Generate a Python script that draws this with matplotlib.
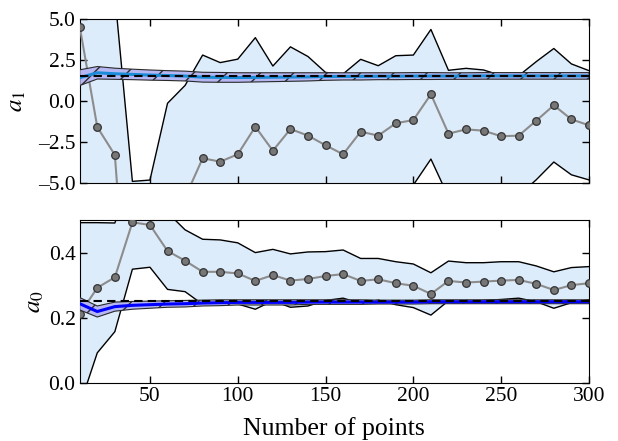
import numpy as np
import matplotlib
matplotlib.use("Agg")
import matplotlib.pyplot as plt

plt.rcParams["font.family"] = ["Liberation Serif", "DejaVu Serif"]
plt.rcParams["mathtext.fontset"] = "stix"
plt.rcParams["xtick.direction"] = "in"
plt.rcParams["ytick.direction"] = "in"
plt.rcParams["xtick.top"] = True
plt.rcParams["ytick.right"] = True
plt.rcParams["hatch.linewidth"] = 1.0

n_points = [10, 20, 30, 40, 50, 60, 70, 80, 90, 100, 110, 120, 130, 140, 150,
            160, 170, 180, 190, 200, 210, 220, 230, 240, 250, 260, 270, 280, 290, 300]

# slope a1: point estimate and its spread
a1_ml = [4.53, -1.59, -3.29, -17.5, -14.0, -10.0, -5.89, -3.49, -3.70, -3.25,
         -1.57, -3.03, -1.71, -2.11, -2.70, -3.25, -1.87, -2.11, -1.36, -1.16,
         0.41, -1.99, -1.73, -1.81, -2.15, -2.11, -1.20, -0.26, -1.12, -1.48]
a1_ml_err = [30.0, 20.0, 9.75, 12.6, 9.18, 9.86, 6.84, 6.29, 6.04, 5.80,
             5.43, 5.16, 5.01, 4.82, 4.44, 4.90, 4.41, 4.26, 4.12, 3.96,
             3.95, 3.86, 3.72, 3.70, 3.70, 3.65, 3.60, 3.46, 3.38, 3.33]
a1_bayes = [1.42, 1.72, 1.66, 1.62, 1.58, 1.55, 1.52, 1.45, 1.44, 1.43,
            1.44, 1.45, 1.46, 1.47, 1.49, 1.50, 1.50, 1.51, 1.51, 1.52,
            1.52, 1.52, 1.52, 1.53, 1.53, 1.53, 1.53, 1.53, 1.53, 1.53]
a1_bayes_err = [0.48, 0.38, 0.34, 0.32, 0.31, 0.30, 0.30, 0.30, 0.30, 0.29,
                0.28, 0.27, 0.26, 0.25, 0.23, 0.22, 0.22, 0.21, 0.21, 0.21,
                0.21, 0.20, 0.20, 0.20, 0.20, 0.20, 0.20, 0.20, 0.20, 0.20]
a1_true = 1.5

# intercept a0
a0_ml = [0.211, 0.292, 0.324, 0.493, 0.485, 0.405, 0.375, 0.341, 0.341, 0.336,
         0.313, 0.331, 0.314, 0.319, 0.328, 0.334, 0.313, 0.318, 0.306, 0.298,
         0.273, 0.313, 0.308, 0.311, 0.314, 0.316, 0.304, 0.285, 0.300, 0.306]
a0_ml_err = [0.281, 0.200, 0.167, 0.144, 0.130, 0.118, 0.095, 0.100, 0.098, 0.094,
             0.087, 0.079, 0.082, 0.083, 0.075, 0.074, 0.069, 0.064, 0.066, 0.067,
             0.065, 0.061, 0.061, 0.058, 0.058, 0.056, 0.055, 0.056, 0.054, 0.051]
a0_bayes = [0.243, 0.219, 0.234, 0.238, 0.240, 0.242, 0.243, 0.245, 0.246, 0.247,
            0.247, 0.247, 0.247, 0.248, 0.248, 0.248, 0.248, 0.248, 0.248, 0.248,
            0.249, 0.249, 0.249, 0.249, 0.249, 0.249, 0.249, 0.249, 0.249, 0.249]
a0_bayes_err = [0.019, 0.017, 0.014, 0.012, 0.011, 0.010, 0.010, 0.009, 0.009, 0.008,
                0.008, 0.008, 0.008, 0.007, 0.007, 0.007, 0.007, 0.006, 0.006, 0.006,
                0.006, 0.006, 0.006, 0.006, 0.006, 0.006, 0.006, 0.006, 0.006, 0.006]
a0_true = 0.25


def draw_panel(ax, ml, ml_err, bayes, bayes_err, true_val, line_color):
    x = np.array(n_points)
    ml = np.array(ml)
    ml_err = np.array(ml_err)
    bayes = np.array(bayes)
    bayes_err = np.array(bayes_err)

    ax.fill_between(x, ml - ml_err, ml + ml_err, facecolor="#ddecfb",
                    edgecolor="none", zorder=1)
    ax.plot(x, ml + ml_err, color="k", lw=1, zorder=2)
    ax.plot(x, ml - ml_err, color="k", lw=1, zorder=2)
    ax.plot(x, ml, color="#8c8c8c", lw=1.5, marker="o", ms=5.5,
            mfc="#777777", mec="#333333", mew=0.9, zorder=3)
    ax.fill_between(x, bayes - bayes_err, bayes + bayes_err, facecolor="#b6b6f2",
                    edgecolor="#2a2a2a", hatch="/", lw=0.8, zorder=4)
    ax.plot(x, bayes, color=line_color, lw=2.2, zorder=5)
    ax.plot(x, [true_val] * len(x), color="k", ls=(0, (4, 2.5)), lw=1.5, zorder=6)
    ax.set_xlim(10, 300)
    ax.set_xticks([50, 100, 150, 200, 250, 300])
    ax.tick_params(labelsize=15.5, length=5, width=1, pad=3)


fig = plt.figure(figsize=(6.18, 4.41), dpi=100)
ax1 = fig.add_axes([0.129, 0.585, 0.824, 0.372])
ax2 = fig.add_axes([0.129, 0.132, 0.824, 0.369])

draw_panel(ax1, a1_ml, a1_ml_err, a1_bayes, a1_bayes_err, a1_true, "#1a8cd8")
ax1.set_ylim(-5, 5)
ax1.set_yticks([-5.0, -2.5, 0.0, 2.5, 5.0])
ax1.set_yticklabels(["\u20135.0", "\u20132.5", "0.0", "2.5", "5.0"])
ax1.set_xticklabels([])
ax1.set_ylabel("$a_1$", fontsize=18, labelpad=7)

draw_panel(ax2, a0_ml, a0_ml_err, a0_bayes, a0_bayes_err, a0_true, "#0000ff")
ax2.set_ylim(0, 0.5)
ax2.set_yticks([0.0, 0.2, 0.4])
ax2.set_yticklabels(["0.0", "0.2", "0.4"])
ax2.set_ylabel("$a_0$", fontsize=18, labelpad=2)
ax2.set_xlabel("Number of points", fontsize=18.5, labelpad=8)

fig.savefig("out.png", dpi=100)
